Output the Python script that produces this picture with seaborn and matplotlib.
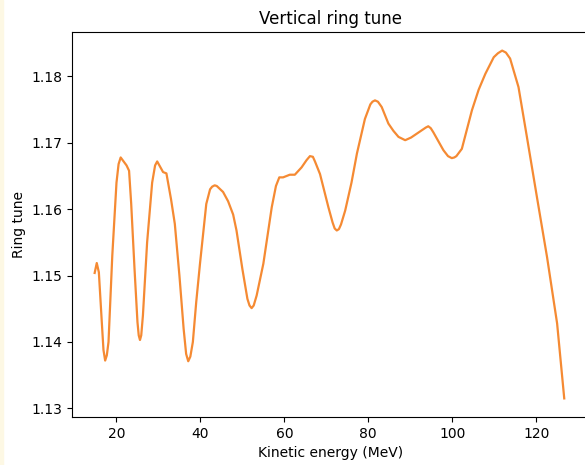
import numpy as np
import pandas as pd
import matplotlib
matplotlib.use("Agg")
import matplotlib.pyplot as plt
import seaborn as sns

# Kinetic energy (MeV) and vertical ring tune
energy = [14.8, 15.3, 15.8, 16.5, 16.9, 17.3, 17.7, 18.1, 19.0, 20.0,
          20.5, 21.0, 21.7, 22.4, 23.0, 23.5, 24.3, 25.0, 25.3, 25.6,
          25.9, 26.3, 27.3, 28.5, 29.2, 29.7, 30.4, 31.1, 31.9, 33.0,
          33.9, 35.0, 36.0, 36.6, 37.1, 37.6, 38.2, 39.0, 39.9, 41.4,
          42.3, 42.8, 43.4, 43.9, 44.4, 45.4, 46.6, 47.8, 48.6, 50.0,
          51.2, 51.7, 52.2, 52.7, 53.4, 55.0, 57.0, 58.0, 58.8, 59.7,
          61.3, 62.5, 64.1, 65.3, 66.1, 66.8, 67.3, 68.5, 70.5, 71.5,
          72.0, 72.5, 73.0, 73.5, 74.5, 76.0, 77.3, 79.2, 80.5, 81.0,
          81.6, 82.3, 83.2, 84.8, 86.0, 87.2, 88.8, 90.2, 91.6, 93.0,
          93.7, 94.3, 94.9, 95.5, 97.9, 99.0, 99.9, 100.5, 101.0, 102.3,
          104.7, 106.3, 107.9, 109.9, 110.9, 111.9, 112.8, 113.8, 115.8, 117.8,
          120.2, 122.6, 125.0, 126.7]
tune = [1.1504, 1.1519, 1.1505, 1.1430, 1.1388, 1.1372, 1.1380, 1.1400, 1.1530, 1.1640,
        1.1668, 1.1678, 1.1672, 1.1666, 1.1658, 1.1609, 1.1510, 1.1430, 1.1410, 1.1403,
        1.1410, 1.1440, 1.1550, 1.1640, 1.1666, 1.1672, 1.1664, 1.1656, 1.1654, 1.1615,
        1.1578, 1.1500, 1.1420, 1.1382, 1.1371, 1.1378, 1.1400, 1.1460, 1.1518, 1.1608,
        1.1630, 1.1634, 1.1636, 1.1635, 1.1632, 1.1626, 1.1612, 1.1592, 1.1568, 1.1510,
        1.1465, 1.1455, 1.1451, 1.1455, 1.1470, 1.1518, 1.1603, 1.1635, 1.1648, 1.1648,
        1.1652, 1.1652, 1.1663, 1.1674, 1.1680, 1.1679, 1.1672, 1.1653, 1.1603, 1.1580,
        1.1571, 1.1568, 1.1570, 1.1577, 1.1598, 1.1640, 1.1684, 1.1736, 1.1758, 1.1762,
        1.1764, 1.1762, 1.1754, 1.1729, 1.1718, 1.1709, 1.1704, 1.1708, 1.1714, 1.1720,
        1.1723, 1.1725, 1.1722, 1.1716, 1.1689, 1.1680, 1.1677, 1.1678, 1.1680, 1.1691,
        1.1749, 1.1780, 1.1804, 1.1829, 1.1835, 1.1839, 1.1836, 1.1827, 1.1784, 1.1709,
        1.1618, 1.1528, 1.1428, 1.1315]

df = pd.DataFrame({"energy": energy, "tune": tune})

fig = plt.figure(figsize=(5.85, 4.65), dpi=100)
# thin notebook strip on the left edge
fig.patches.append(plt.Rectangle((0, 0), 3 / 585, 1, transform=fig.transFigure,
                                 color="#fdf8e4", zorder=0))
ax = fig.add_axes([72 / 585, 48 / 465, 517 / 585, 385 / 465])

sns.lineplot(data=df, x="energy", y="tune", ax=ax, color="#f58a33",
             linewidth=1.6, sort=False, solid_joinstyle="round")

ax.set_xlim(9.4, 132.6)
ax.set_ylim(1.1287, 1.1867)
ax.set_xticks([20, 40, 60, 80, 100, 120])
ax.set_yticks([1.13, 1.14, 1.15, 1.16, 1.17, 1.18])
ax.set_title("Vertical ring tune")
ax.set_xlabel("Kinetic energy (MeV)")
ax.set_ylabel("Ring tune")

fig.savefig("out.png", dpi=100)
